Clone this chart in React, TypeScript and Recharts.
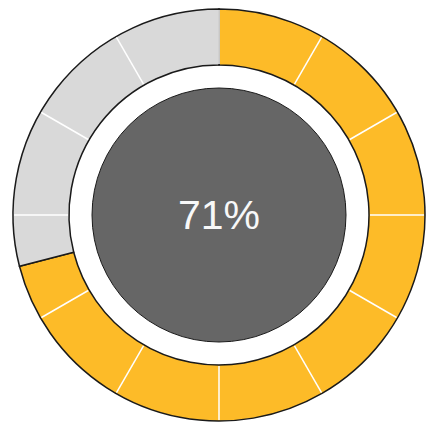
import { Pie, PieChart } from 'recharts';

const progressNames = ['done', 'left'];
const progressValues = [71, 29];
const progressColors = ['#FDBB28', '#D9D9D9'];
const tickCount = 12;
const centerLabel = '71%';

const progressData = progressNames.map((name, i) => ({ name, value: progressValues[i] }));
const tickData = Array.from({ length: tickCount }, (_, i) => ({ name: `t${i}`, value: 1 }));
const coreData = [{ name: 'core', value: 1 }];

const RAD = Math.PI / 180;

// draws only the radial divider at the start of each slice
function Divider(props: any) {
  const { cx, cy, innerRadius, outerRadius, startAngle } = props;
  const cos = Math.cos(-startAngle * RAD);
  const sin = Math.sin(-startAngle * RAD);
  return (
    <line
      x1={cx + innerRadius * cos}
      y1={cy + innerRadius * sin}
      x2={cx + outerRadius * cos}
      y2={cy + outerRadius * sin}
      stroke="#ffffff"
      strokeWidth={1.5}
    />
  );
}

function RingSlice(p: any) {
  const { cx, cy, innerRadius, outerRadius, startAngle, endAngle, index } = p;
  const large = Math.abs(endAngle - startAngle) > 180 ? 1 : 0;
  const pt = (r: number, a: number) => [cx + r * Math.cos(-a * RAD), cy + r * Math.sin(-a * RAD)];
  const [ox1, oy1] = pt(outerRadius, startAngle);
  const [ox2, oy2] = pt(outerRadius, endAngle);
  const [ix2, iy2] = pt(innerRadius, endAngle);
  const [ix1, iy1] = pt(innerRadius, startAngle);
  const d = `M${ox1},${oy1} A${outerRadius},${outerRadius} 0 ${large} 1 ${ox2},${oy2} L${ix2},${iy2} A${innerRadius},${innerRadius} 0 ${large} 0 ${ix1},${iy1} Z`;
  return <path d={d} fill={progressColors[index]} stroke="#1a1a1a" strokeWidth={1.5} />;
}

// full disc (no radial seam) with the percentage in the middle
function Core(p: any) {
  return (
    <g>
      <circle cx={p.cx} cy={p.cy} r={p.outerRadius} fill="#666666" stroke="#1a1a1a" strokeWidth={1} />
      <text
        x={p.cx}
        y={p.cy}
        textAnchor="middle"
        dominantBaseline="central"
        fill="#f8f8f8"
        style={{ fontFamily: '"Liberation Sans", Arial, sans-serif', fontSize: 41 }}
      >
        {centerLabel}
      </text>
    </g>
  );
}

export default function App() {
  return (
    <div style={{ position: 'absolute', left: 0, top: 0, width: 426, height: 424 }}>
      <PieChart width={426} height={424} margin={{ top: 0, right: 0, bottom: 0, left: 0 }}>
        <Pie
          data={progressData}
          dataKey="value"
          cx={219}
          cy={215}
          innerRadius={150}
          outerRadius={206}
          startAngle={90}
          endAngle={-270}
          isAnimationActive={false}
          shape={RingSlice}
        />
        <Pie
          data={tickData}
          dataKey="value"
          cx={219}
          cy={215}
          innerRadius={151}
          outerRadius={205}
          startAngle={90}
          endAngle={-270}
          isAnimationActive={false}
          shape={Divider}
        />
        <Pie
          data={coreData}
          dataKey="value"
          cx={219}
          cy={215}
          innerRadius={0}
          outerRadius={127}
          startAngle={90}
          endAngle={-270}
          isAnimationActive={false}
          shape={Core}
        />
      </PieChart>
    </div>
  );
}
